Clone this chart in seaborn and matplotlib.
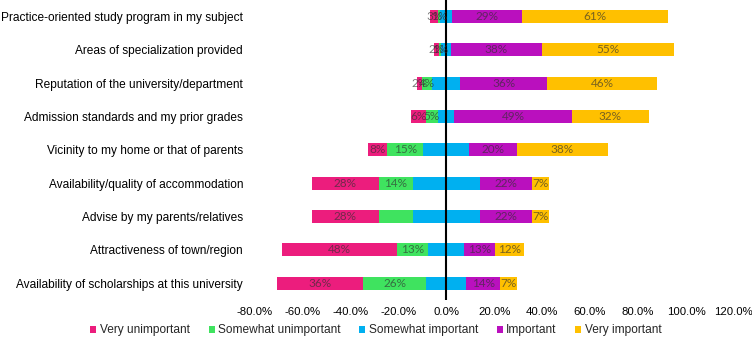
import matplotlib
matplotlib.use("Agg")
import numpy as np
import pandas as pd
import seaborn as sns
import matplotlib.pyplot as plt
from matplotlib.patches import Patch
from matplotlib.ticker import FuncFormatter

# survey items, top to bottom
items = [
    "Practice-oriented study program in my subject",
    "Areas of specialization provided",
    "Reputation of the university/department",
    "Admission standards and my prior grades",
    "Vicinity to my home or that of parents",
    "Availability/quality of accommodation",
    "Advise by my parents/relatives",
    "Attractiveness of town/region",
    "Availability of scholarships at this university",
]
levels = ["Very unimportant", "Somewhat unimportant", "Somewhat important",
          "Important", "Very important"]

# shares in percent
very_unimportant = [3, 2, 2, 6, 8, 28, 28, 48, 36]
somewhat_unimportant = [1, 1, 4, 5, 15, 14, 14, 13, 26]
somewhat_important = [5, 4, 12, 7, 19, 28, 28, 15, 17]
important = [29, 38, 36, 49, 20, 22, 22, 13, 14]
very_important = [61, 55, 46, 32, 38, 7, 7, 12, 7]

# which segments carry a printed label (the centre category never does)
show_su_label = [True, True, True, True, True, True, False, True, True]

colors = ["#EC1D7D", "#3FE35F", "#00B0F0", "#BA10BE", "#FFC000"]

sns.set_style("white")
plt.rcParams["font.family"] = ["Liberation Sans", "DejaVu Sans"]

series = [very_unimportant, somewhat_unimportant, somewhat_important,
          important, very_important]
vals = np.array(series, dtype=float)
starts = -(vals[0] + vals[1] + vals[2] / 2)
lefts = starts + np.vstack([np.zeros(len(items)), np.cumsum(vals, axis=0)[:-1]])

fig = plt.figure(figsize=(7.52, 3.42), dpi=100)
ax = fig.add_axes([0.338, 0.123, 0.638, 0.877])

for k, level in enumerate(levels):
    df = pd.DataFrame({"item": items, "share": vals[k], "left": lefts[k]})
    sns.barplot(data=df, x="share", y="item", orient="h", color=colors[k],
                left=df["left"].values, width=0.39, ax=ax, zorder=2,
                linewidth=0, saturation=1)

lab_kw = dict(ha="center", va="center", fontsize=8.5, color="#303030", alpha=0.65,
              family=["Lato", "DejaVu Sans"], zorder=4)
for k in (0, 1, 3, 4):
    for i in range(len(items)):
        if k == 1 and not show_su_label[i]:
            continue
        cx = lefts[k][i] + vals[k][i] / 2
        ax.text(cx, i, f"{int(vals[k][i])}%", **lab_kw)

ax.axvline(0, color="black", lw=1.5, zorder=3)
ax.set_xlim(-80, 120)
ax.set_ylim(8.5, -0.5)
ax.set_xticks(np.arange(-80, 121, 20))
ax.xaxis.set_major_formatter(FuncFormatter(lambda v, p: f"{v:.1f}%"))
ax.set_xlabel("")
ax.set_ylabel("")
ax.tick_params(axis="both", length=0, colors="black")
ax.tick_params(axis="y", pad=8, labelsize=8.6)
ax.tick_params(axis="x", pad=5, labelsize=8.2)
for s in ax.spines.values():
    s.set_visible(False)
ax.grid(False)

handles = [Patch(facecolor=c, edgecolor="none") for c in colors]
fig.legend(handles, levels, loc="lower center", bbox_to_anchor=(0.5, -0.015),
           ncol=5, frameon=False, fontsize=8.6, handlelength=0.5, handleheight=0.5,
           handletextpad=0.3, columnspacing=1.55)

fig.savefig("out.png", dpi=100)
